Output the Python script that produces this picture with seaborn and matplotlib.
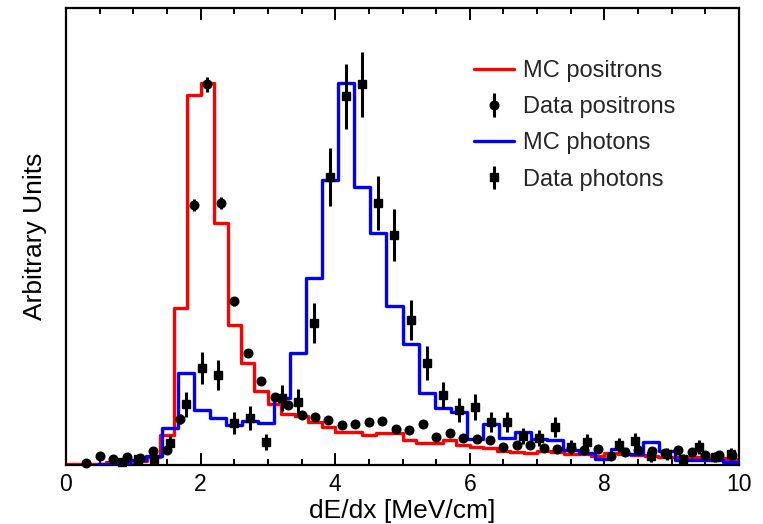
import numpy as np
import pandas as pd
import matplotlib
matplotlib.use("Agg")
import matplotlib.pyplot as plt
from matplotlib.lines import Line2D
from matplotlib.ticker import MultipleLocator
import seaborn as sns

# Simulated dE/dx spectra (arbitrary units), 0.2 MeV/cm bins for positrons
mc_positrons = [1, 1, 1.5, 3, 3.5, 4, 8, 30, 157, 370,
                382, 242, 140, 102, 74, 61, 51, 49, 43, 38,
                33, 33, 30, 32, 32, 25, 22, 22, 25, 20,
                18, 17, 14, 13, 12, 14, 13, 11, 11, 9,
                12, 11, 10, 9, 8, 8, 8, 7, 7, 6]

# Measured positrons, same binning (nan = empty bin)
data_positrons = [np.nan, 1.7, 9, 6, 8, 7, 14, 15, 46, 260,
                  381, 262, 164, 112, 84, 68, 60, 50, 48, 45,
                  40, 41, 43, 44, 36, 35, 41, 28, 32, 27,
                  26, 25, 18, 20, 20, 17, 16, 17, 15, 16,
                  9, 13, 15, 14.5, 12, 15, 13, 10.5, 10, 10]
err_positrons = [np.nan, 1.5, 2.5, 2, 2.5, 2, 3, 3, 5, 6,
                 7.5, 6, 4.5, 4, 3.5, 3, 3, 3, 3, 3,
                 2.5, 2.5, 2.5, 2.5, 2.5, 2.5, 2.5, 2, 2, 2,
                 2, 2, 2, 2, 2, 2, 2, 2, 2, 2,
                 1.5, 1.5, 1.5, 1.5, 1.5, 1.5, 1.5, 1.5, 1.5, 1.5]

# Photon spectra, 42 bins over 0-10 MeV/cm
mc_photons = [0, 0, 1.5, 2, 5, 9, 37, 92, 55, 47,
              40, 44, 42, 67, 112, 187, 285, 382, 278, 232,
              159, 121, 72, 57, 53, 26, 41, 27, 33, 26,
              25, 15, 12, 6.5, 16, 11, 23.5, 14.5, 5, 5.5,
              5.5, 3]
data_photons = [np.nan, np.nan, np.nan, 3, 5.7, 6, 22, 61, 97, 90,
                42, 47, 23, 67, 63, 142, 288, 369, 381, 262,
                230, 145, 102, 70, 55, 58, 43, 43, 29, 27,
                38, 18, 23, np.nan, 20, 24, 9.5, 11, 5.7, 18,
                8, 11]
err_photons = [np.nan, np.nan, np.nan, 3, 4, 4, 7, 12.5, 16, 15,
               11, 12, 8, 13, 13, 20, 29, 32.5, 32.5, 27,
               26, 20, 17, 13, 12, 13, 10, 10, 8, 8,
               10, 7, 8, np.nan, 7, 8, 6, 6, 5, 7,
               5, 6]

labels = ["MC positrons", "Data positrons", "MC photons", "Data photons"]
x_label = "dE/dx [MeV/cm]"
y_label = "Arbitrary Units"

RED = "#ff0000"
BLUE = "#0000ff"
X_MIN, X_MAX = 0.0, 10.0

sns.set_theme(style="ticks")
plt.rcParams["font.family"] = ["Liberation Sans", "DejaVu Sans"]

fig = plt.figure(figsize=(7.63, 5.24), dpi=100)
ax = fig.add_axes([66 / 763, 1 - 465 / 524, 673 / 763, 457 / 524])

n_pos = len(mc_positrons)
n_pho = len(mc_photons)
pos_edges = np.linspace(X_MIN, X_MAX, n_pos + 1)
pos_centers = 0.5 * (pos_edges[:-1] + pos_edges[1:])
pho_edges = np.linspace(X_MIN, X_MAX, n_pho + 1)
pho_centers = 0.5 * (pho_edges[:-1] + pho_edges[1:])

mc_pos_df = pd.DataFrame({"dedx": pos_centers, "w": mc_positrons})
mc_pho_df = pd.DataFrame({"dedx": pho_centers, "w": mc_photons})

sns.histplot(data=mc_pos_df, x="dedx", weights="w", bins=n_pos,
             binrange=(X_MIN, X_MAX), element="step", fill=False,
             color=RED, linewidth=2.4, ax=ax, zorder=2)

# photon histogram starts at its first filled bin
first = int(np.argmax(mc_pho_df["w"].to_numpy() > 0))
sns.histplot(data=mc_pho_df.iloc[first:], x="dedx", weights="w", bins=n_pho - first,
             binrange=(float(pho_edges[first]), X_MAX), element="step", fill=False,
             color=BLUE, linewidth=2.4, ax=ax, zorder=3)

eb_pos = ax.errorbar(pos_centers, data_positrons, yerr=err_positrons, fmt="o",
                     color="black", ms=6.2, elinewidth=2.2, capsize=0,
                     clip_on=False, zorder=5)
eb_pho = ax.errorbar(pho_centers, data_photons, yerr=err_photons, fmt="s",
                     color="black", ms=5.8, elinewidth=2.2, capsize=0,
                     clip_on=False, zorder=6)

ax.set_xlim(X_MIN, X_MAX)
ax.set_ylim(0, 457)

ax.xaxis.set_major_locator(MultipleLocator(2))
ax.xaxis.set_minor_locator(MultipleLocator(0.5))
ax.set_yticks([])
ax.tick_params(axis="x", which="both", direction="in", top=True, bottom=True,
               color="black", width=1.4, labelsize=16.5, labelcolor="black", pad=6)
ax.tick_params(axis="x", which="major", length=8.5)
ax.tick_params(axis="x", which="minor", length=4.5)
for s in ax.spines.values():
    s.set_linewidth(1.6)
    s.set_color("black")
    s.set_visible(True)

ax.set_xlabel(x_label, fontsize=19, color="black", labelpad=2)
ax.set_ylabel(y_label, fontsize=19, color="black", labelpad=14)

handles = [Line2D([], [], color=RED, lw=2.4), eb_pos,
           Line2D([], [], color=BLUE, lw=2.4), eb_pho]
ax.legend(handles, labels, loc="upper left", bbox_to_anchor=(0.606, 0.886),
          frameon=False, fontsize=17, borderpad=0, borderaxespad=0,
          handlelength=1.7, handletextpad=0.4, labelspacing=0.6)

fig.savefig("out.png", dpi=100)
